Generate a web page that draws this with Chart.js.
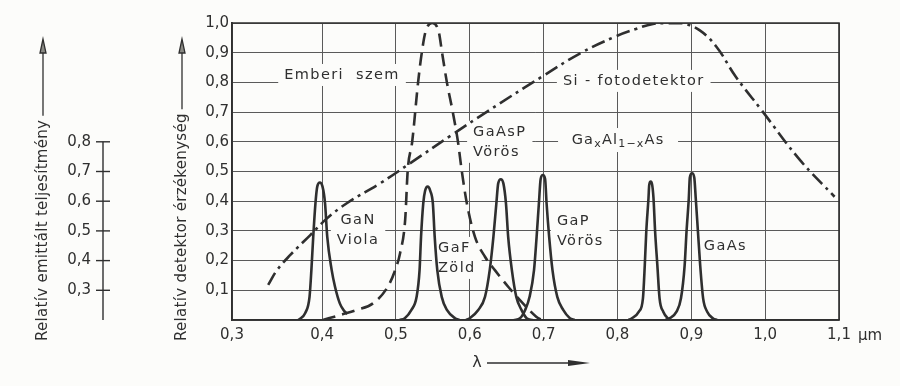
<!DOCTYPE html>
<html>
<head>
<meta charset="utf-8">
<script src="https://cdn.jsdelivr.net/npm/chart.js@4/dist/chart.umd.min.js"></script>
<style>
html, body { margin: 0; padding: 0; background: #fcfcfa; }
#wrap { width: 900px; height: 386px; }
</style>
</head>
<body>
<div id="wrap"><canvas id="myChart" width="900" height="386"></canvas></div>
<script>
// axis ticks
// in the original the "0,3" mark sits at the corner, a bit left of where 0.3 falls on the 0.4..1.1 spacing
var xAxisStart = 0.278;
var xGridValues = [xAxisStart, 0.4, 0.5, 0.6, 0.7, 0.8, 0.9, 1.0, 1.1];
var xTickLabels = ['0,3', '0,4', '0,5', '0,6', '0,7', '0,8', '0,9', '1,0', '1,1'];
var yGridValues = [0, 0.1, 0.2, 0.3, 0.4, 0.5, 0.6, 0.7, 0.8, 0.9, 1.0];
var yTickLabels = ['', '0,1', '0,2', '0,3', '0,4', '0,5', '0,6', '0,7', '0,8', '0,9', '1,0'];
// left scale (relative emitted power) is the detector scale shifted by 0.2
var emitOffset = 0.2;
var emitTickValues = [0.3, 0.4, 0.5, 0.6, 0.7, 0.8];
var emitTickLabels = ['0,3', '0,4', '0,5', '0,6', '0,7', '0,8'];

// Si photodetector (dash-dot)
var siX = [0.327, 0.339, 0.357, 0.384, 0.407, 0.434, 0.4785, 0.519, 0.5756, 0.623, 0.6975, 0.7496, 0.7967, 0.825, 0.848, 0.865, 0.888, 0.911, 0.934, 0.960, 0.995, 1.047, 1.094];
var siY = [0.118, 0.168, 0.219, 0.286, 0.343, 0.394, 0.460, 0.5275, 0.623, 0.701, 0.819, 0.898, 0.954, 0.980, 0.997, 0.999, 0.999, 0.976, 0.920, 0.820, 0.707, 0.539, 0.415];

// human eye (dashed)
var eyeX = [0.401, 0.4245, 0.447, 0.469, 0.489, 0.499, 0.5056, 0.5125, 0.516, 0.522, 0.530, 0.535, 0.540, 0.549, 0.558, 0.5625, 0.569, 0.577, 0.584, 0.589, 0.596, 0.607, 0.6206, 0.634, 0.652, 0.672, 0.690, 0.697];
var eyeY = [0.0, 0.017, 0.034, 0.056, 0.112, 0.168, 0.225, 0.337, 0.505, 0.6, 0.8, 0.9, 0.97, 1.0, 0.97, 0.9, 0.8, 0.7, 0.6, 0.505, 0.393, 0.28, 0.213, 0.168, 0.112, 0.056, 0.011, 0.0];

// LED emission peaks (solid)
var ganX = [0.368, 0.377, 0.383, 0.3855, 0.388, 0.391, 0.3935, 0.397, 0.4005, 0.404, 0.407, 0.413, 0.4175, 0.424, 0.429, 0.434];
var ganY = [0.0, 0.023, 0.078, 0.168, 0.28, 0.393, 0.45, 0.463, 0.45, 0.393, 0.28, 0.168, 0.112, 0.056, 0.034, 0.02];
var gafX = [0.505, 0.512, 0.521, 0.528, 0.532, 0.534, 0.537, 0.5395, 0.543, 0.5465, 0.550, 0.5525, 0.556, 0.562, 0.569, 0.580, 0.586];
var gafY = [0.0, 0.006, 0.034, 0.078, 0.168, 0.28, 0.393, 0.435, 0.449, 0.435, 0.393, 0.28, 0.168, 0.078, 0.034, 0.006, 0.0];
var gaaspX = [0.595, 0.600, 0.6115, 0.6206, 0.627, 0.632, 0.636, 0.6385, 0.642, 0.6455, 0.649, 0.652, 0.657, 0.663, 0.670, 0.677, 0.685];
var gaaspY = [0.0, 0.006, 0.034, 0.078, 0.168, 0.28, 0.393, 0.46, 0.474, 0.46, 0.393, 0.28, 0.168, 0.078, 0.034, 0.006, 0.0];
var gapX = [0.660, 0.668, 0.675, 0.681, 0.687, 0.6905, 0.6936, 0.696, 0.699, 0.702, 0.704, 0.7075, 0.712, 0.7185, 0.7265, 0.7356, 0.742];
var gapY = [0.0, 0.006, 0.034, 0.078, 0.168, 0.28, 0.393, 0.475, 0.488, 0.475, 0.393, 0.28, 0.168, 0.078, 0.034, 0.006, 0.0];
var gaalasX = [0.815, 0.819, 0.829, 0.8345, 0.837, 0.839, 0.842, 0.843, 0.845, 0.847, 0.8488, 0.851, 0.854, 0.857, 0.862, 0.8686, 0.872];
var gaalasY = [0.0, 0.005, 0.028, 0.073, 0.185, 0.297, 0.41, 0.455, 0.466, 0.455, 0.41, 0.297, 0.185, 0.073, 0.028, 0.005, 0.0];
var gaasX = [0.865, 0.870, 0.880, 0.886, 0.891, 0.8935, 0.8966, 0.898, 0.901, 0.904, 0.906, 0.909, 0.912, 0.916, 0.9215, 0.9295, 0.935];
var gaasY = [0.0, 0.005, 0.028, 0.073, 0.185, 0.297, 0.41, 0.48, 0.494, 0.48, 0.41, 0.297, 0.185, 0.073, 0.028, 0.005, 0.0];

// curve labels (x, y in data units, align)
var curveLabels = [
  { lines: ['Emberi  szem'], x: 0.427, y: 0.825, align: 'center' },
  { lines: ['Si - fotodetektor'], x: 0.822, y: 0.805, align: 'center' },
  { lines: ['GaAsP', 'Vörös'], x: 0.6045, y: 0.60, align: 'left' },
  { lines: ['GaN', 'Viola'], x: 0.4487, y: 0.303, align: 'center' },
  { lines: ['GaF', 'Zöld'], x: 0.557, y: 0.209, align: 'left' },
  { lines: ['GaP', 'Vörös'], x: 0.718, y: 0.298, align: 'left' },
  { lines: ['GaAs'], x: 0.917, y: 0.249, align: 'left' }
];
var gaalLabel = { x: 0.8008, y: 0.606 };

var ink = '#2f2f2f';
var gridInk = '#5a5a5a';
var bg = '#fcfcfa';
var labelFont = '14.5px "DejaVu Sans"';

function pts(xs, ys) {
  return xs.map(function (x, i) { return { x: x, y: ys[i] }; });
}

function peak(xs, ys) {
  return {
    data: pts(xs, ys),
    borderColor: ink,
    borderWidth: 2.6,
    pointRadius: 0,
    cubicInterpolationMode: 'monotone',
    fill: false
  };
}

function labelBox(ctx, lab, xs, ys) {
  ctx.font = labelFont;
  ctx.letterSpacing = '1.4px';
  var w = 0;
  lab.lines.forEach(function (t) { w = Math.max(w, ctx.measureText(t).width); });
  var h = lab.lines.length * 20;
  var px = xs.getPixelForValue(lab.x);
  var py = ys.getPixelForValue(lab.y);
  var left = lab.align === 'left' ? px : px - w / 2;
  ctx.letterSpacing = '0px';
  return { left: left, top: py - h / 2, w: w, h: h, cx: px, cy: py };
}

var decorPlugin = {
  id: 'decor',
  beforeDatasetsDraw: function (chart) {
    var ctx = chart.ctx, xs = chart.scales.x, ys = chart.scales.y;
    ctx.save();
    ctx.fillStyle = bg;
    curveLabels.forEach(function (lab) {
      var b = labelBox(ctx, lab, xs, ys);
      ctx.fillRect(b.left - 6, b.top - 1, b.w + 12, b.h + 2);
    });
    // Ga(x)Al(1-x)As box
    var gx = xs.getPixelForValue(gaalLabel.x), gy = ys.getPixelForValue(gaalLabel.y);
    ctx.fillRect(gx - 60, gy - 12, 120, 24);
    ctx.restore();
  },
  afterDatasetsDraw: function (chart) {
    var ctx = chart.ctx, xs = chart.scales.x, ys = chart.scales.y;
    ctx.save();
    ctx.fillStyle = ink;
    ctx.textBaseline = 'middle';
    curveLabels.forEach(function (lab) {
      var b = labelBox(ctx, lab, xs, ys);
      ctx.font = labelFont;
      ctx.letterSpacing = '1.4px';
      ctx.textAlign = lab.align;
      lab.lines.forEach(function (t, i) {
        ctx.fillText(t, lab.align === 'left' ? b.left : b.cx, b.top + 10 + i * 20);
      });
    });

    // GaxAl1-xAs with lowered indices
    var parts = [['Ga', 14.5, 0], ['x', 11, 4], ['Al', 14.5, 0], ['1\u2212x', 11, 4], ['As', 14.5, 0]];
    ctx.textAlign = 'left';
    ctx.letterSpacing = '1.2px';
    var total = 0;
    parts.forEach(function (p) { ctx.font = p[1] + 'px "DejaVu Sans"'; total += ctx.measureText(p[0]).width; });
    var gx = xs.getPixelForValue(gaalLabel.x) - total / 2, gy = ys.getPixelForValue(gaalLabel.y);
    parts.forEach(function (p) {
      ctx.font = p[1] + 'px "DejaVu Sans"';
      ctx.fillText(p[0], gx, gy + p[2]);
      gx += ctx.measureText(p[0]).width;
    });
    ctx.letterSpacing = '0px';

    // box top and right
    var a = chart.chartArea;
    ctx.strokeStyle = ink;
    ctx.lineWidth = 1.6;
    ctx.beginPath();
    ctx.moveTo(a.left, a.top); ctx.lineTo(a.right, a.top); ctx.lineTo(a.right, a.bottom);
    ctx.stroke();

    // unit after the last x tick
    ctx.font = '15px "DejaVu Sans"';
    ctx.textAlign = 'left';
    ctx.fillText('\u03bcm', a.right + 19, a.bottom + 16);

    // lambda arrow under the x axis
    var ly = a.bottom + 43;
    ctx.font = '16px "DejaVu Sans"';
    ctx.textAlign = 'center';
    ctx.fillText('\u03bb', 477, ly);
    ctx.lineWidth = 1.3;
    ctx.beginPath(); ctx.moveTo(487, ly); ctx.lineTo(575, ly); ctx.stroke();
    ctx.beginPath(); ctx.moveTo(590, ly); ctx.lineTo(568, ly - 3); ctx.lineTo(568, ly + 3); ctx.closePath(); ctx.fill();

    // left scale: relative emitted power
    var ex = 103;
    var eTop = ys.getPixelForValue(emitTickValues[emitTickValues.length - 1] - emitOffset);
    ctx.lineWidth = 1.4;
    ctx.beginPath(); ctx.moveTo(ex, ys.getPixelForValue(0)); ctx.lineTo(ex, eTop); ctx.stroke();
    ctx.font = '15px "DejaVu Sans"';
    ctx.textAlign = 'right';
    emitTickValues.forEach(function (v, i) {
      var py = ys.getPixelForValue(v - emitOffset);
      ctx.beginPath();
      ctx.moveTo(ex - 7, py);
      ctx.lineTo(ex + 7, py);
      ctx.stroke();
      ctx.fillText(emitTickLabels[i], ex - 12, py);
    });

    // rotated axis titles with arrows
    drawTitle(ctx, 'Relatív emittált teljesítmény', 43, 341);
    drawTitle(ctx, 'Relatív detektor érzékenység', 182, 341);
    ctx.restore();
  }
};

function drawTitle(ctx, text, x, yStart) {
  ctx.save();
  ctx.font = '15px "DejaVu Sans"';
  ctx.letterSpacing = '0.3px';
  var w = ctx.measureText(text).width;
  ctx.translate(x, yStart);
  ctx.rotate(-Math.PI / 2);
  ctx.textAlign = 'left';
  ctx.textBaseline = 'middle';
  ctx.fillStyle = ink;
  ctx.fillText(text, 0, 0);
  ctx.restore();
  var yEnd = yStart - w - 4;
  ctx.strokeStyle = ink;
  ctx.lineWidth = 1.3;
  ctx.beginPath(); ctx.moveTo(x, yEnd); ctx.lineTo(x, 52); ctx.stroke();
  ctx.beginPath(); ctx.moveTo(x, 39); ctx.lineTo(x - 3, 53); ctx.lineTo(x + 3, 53); ctx.closePath();
  ctx.fillStyle = '#8a8a84';
  ctx.fill();
  ctx.stroke();
}

Chart.defaults.font.family = '"DejaVu Sans"';
Chart.defaults.font.size = 15;
Chart.defaults.color = ink;

var ctx = document.getElementById('myChart');
var myChart = new Chart(ctx, {
  type: 'line',
  data: {
    datasets: [
      {
        data: pts(siX, siY),
        borderColor: ink,
        borderWidth: 2.6,
        borderDash: [14, 5, 3, 5],
        pointRadius: 0,
        tension: 0.4,
        fill: false
      },
      {
        data: pts(eyeX, eyeY),
        borderColor: ink,
        borderWidth: 2.6,
        borderDash: [13, 7],
        pointRadius: 0,
        cubicInterpolationMode: 'monotone',
        fill: false
      },
      peak(ganX, ganY),
      peak(gafX, gafY),
      peak(gaaspX, gaaspY),
      peak(gapX, gapY),
      peak(gaalasX, gaalasY),
      peak(gaasX, gaasY)
    ]
  },
  options: {
    responsive: false,
    animation: false,
    layout: { padding: { top: 23, right: 61, left: 0, bottom: 0 } },
    plugins: { legend: { display: false }, tooltip: { enabled: false } },
    scales: {
      x: {
        type: 'linear',
        min: xAxisStart,
        max: 1.1,
        afterBuildTicks: function (s) { s.ticks = xGridValues.map(function (v) { return { value: v }; }); },
        afterFit: function (s) { s.height = 66; },
        ticks: {
          padding: 6,
          maxRotation: 0,
          autoSkip: false,
          callback: function (v, i) { return xTickLabels[i]; }
        },
        grid: { color: gridInk, lineWidth: 1, drawTicks: false },
        border: { color: ink, width: 1.8 }
      },
      y: {
        type: 'linear',
        min: 0,
        max: 1,
        afterBuildTicks: function (s) { s.ticks = yGridValues.map(function (v) { return { value: v }; }); },
        afterFit: function (s) { s.width = 232; },
        ticks: {
          padding: 3,
          autoSkip: false,
          callback: function (v, i) { return yTickLabels[i]; }
        },
        grid: { color: gridInk, lineWidth: 1, drawTicks: false },
        border: { color: ink, width: 1.8 }
      }
    }
  },
  plugins: [decorPlugin]
});
</script>
</body>
</html>
